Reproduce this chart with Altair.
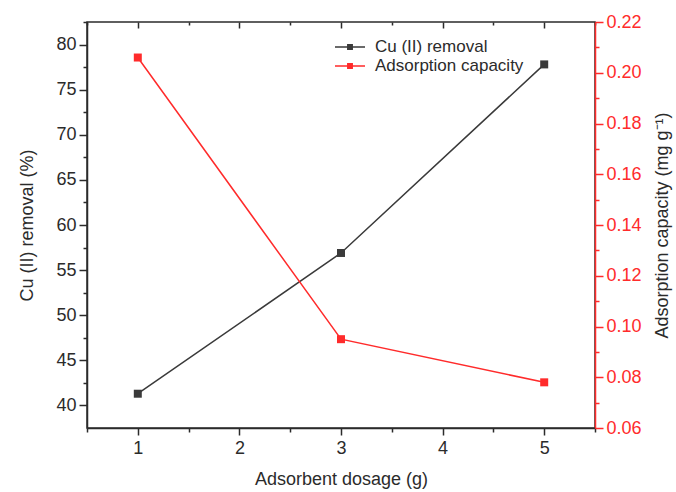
import altair as alt
import pandas as pd

# ---- data ----
dosage = [1, 3, 5]
removal = [41.3, 56.9, 77.8]
capacity = [0.206, 0.095, 0.078]
series_names = ["Cu (II) removal", "Adsorption capacity"]
series_colors = ["#3a3a3a", "#ff2b2b"]

x_ticks = [0.5, 1, 1.5, 2, 2.5, 3, 3.5, 4, 4.5, 5, 5.5]
left_ticks = [40, 42.5, 45, 47.5, 50, 52.5, 55, 57.5, 60, 62.5, 65, 67.5,
              70, 72.5, 75, 77.5, 80, 82.5]
right_ticks = [0.06, 0.07, 0.08, 0.09, 0.10, 0.11, 0.12, 0.13, 0.14, 0.15,
               0.16, 0.17, 0.18, 0.19, 0.20, 0.21, 0.22]

df1 = pd.DataFrame({"dosage": dosage, "value": removal, "series": series_names[0]})
df2 = pd.DataFrame({"dosage": dosage, "value": capacity, "series": series_names[1]})

FONT = "Liberation Sans"
DARK = "#2b2b2b"
RED = "#ff2b2b"

color = alt.Color(
    "series:N",
    scale=alt.Scale(domain=series_names, range=series_colors),
    legend=alt.Legend(
        title=None, orient="none", legendX=252, legendY=14,
        symbolType="M-1.5,0H1.5M-0.22,-0.22H0.22V0.22H-0.22Z",
        symbolSize=400, symbolStrokeWidth=1.5,
        labelFont=FONT, labelFontSize=17, labelColor=DARK, labelOffset=14,
        rowPadding=0,
    ),
)

minor_x = "datum.value % 1 !== 0"
minor_left = "datum.value % 5 !== 0"
minor_right = "round(datum.value * 100) % 2 !== 0"

bottom_axis = alt.Axis(
    orient="bottom", values=x_ticks, title="Adsorbent dosage (g)",
    format="~g",
    labelExpr="datum.value % 1 === 0 ? datum.label : ''",
    grid=False, domainColor=DARK, domainWidth=1.5, tickColor=DARK, tickWidth=1.5,
    tickSize=7, tickDash={"condition": {"test": minor_x, "value": [4, 3]}, "value": []},
    labelFont=FONT, labelFontSize=18, labelColor=DARK, labelPadding=4,
    titleFont=FONT, titleFontSize=18, titleColor=DARK, titleFontWeight="normal",
    titlePadding=13,
)
top_axis = alt.Axis(
    orient="top", values=x_ticks, title=None, labels=False, domain=False,
    grid=False, offset=-6, tickColor=DARK, tickWidth=1.5, tickSize=6,
    tickDash={"condition": {"test": minor_x, "value": [0, 3, 3, 0]}, "value": []},
)
left_axis = alt.Axis(
    orient="left", values=left_ticks, title="Cu (II) removal (%)",
    labelExpr="datum.value % 5 === 0 ? datum.label : ''",
    grid=False, domainColor=DARK, domainWidth=1.5, tickColor=DARK, tickWidth=1.5,
    tickSize=8, tickDash={"condition": {"test": minor_left, "value": [4, 4]}, "value": []},
    labelFont=FONT, labelFontSize=18, labelColor=DARK, labelPadding=3,
    titleFont=FONT, titleFontSize=18, titleColor=DARK, titleFontWeight="normal",
    titlePadding=19,
)
right_axis = alt.Axis(
    orient="right", values=right_ticks, title="Adsorption capacity (mg g⁻¹)",
    format=".2f",
    labelExpr="round(datum.value * 100) % 2 === 0 ? datum.label : ''",
    grid=False, domainColor=RED, domainWidth=1.5, tickColor=RED, tickWidth=1.5,
    tickSize=8, tickDash={"condition": {"test": minor_right, "value": [4, 4]}, "value": []},
    labelFont=FONT, labelFontSize=18, labelColor=RED, labelPadding=3,
    titleFont=FONT, titleFontSize=18, titleColor=DARK, titleFontWeight="normal",
    titleAngle=270, titleBaseline="top", titlePadding=12,
)

xscale = alt.Scale(domain=[0.5, 5.5], nice=False, zero=False)

line1 = alt.Chart(df1).mark_line(
    strokeWidth=1.5,
    point=alt.OverlayMarkDef(shape="square", size=64, filled=True, opacity=1),
).encode(
    x=alt.X("dosage:Q", scale=xscale, axis=bottom_axis),
    y=alt.Y("value:Q", scale=alt.Scale(domain=[37.5, 82.5], nice=False, zero=False),
            axis=left_axis),
    color=color,
)

line2 = alt.Chart(df2).mark_line(
    strokeWidth=1.5,
    point=alt.OverlayMarkDef(shape="square", size=64, filled=True, opacity=1),
).encode(
    x=alt.X("dosage:Q", scale=xscale, axis=top_axis),
    y=alt.Y("value:Q", scale=alt.Scale(domain=[0.06, 0.22], nice=False, zero=False),
            axis=right_axis),
    color=color,
)

chart = alt.layer(line1, line2).resolve_scale(
    y="independent"
).resolve_axis(
    x="independent", y="independent"
).properties(
    width=508, height=406,
    autosize=alt.AutoSizeParams(type="none"),
    padding={"left": 87, "top": 22, "right": 81, "bottom": 64},
    background="white",
).configure_view(
    stroke=DARK, strokeWidth=1.5
)

chart.save("out.html", embed_options={"renderer": "svg", "actions": False})
